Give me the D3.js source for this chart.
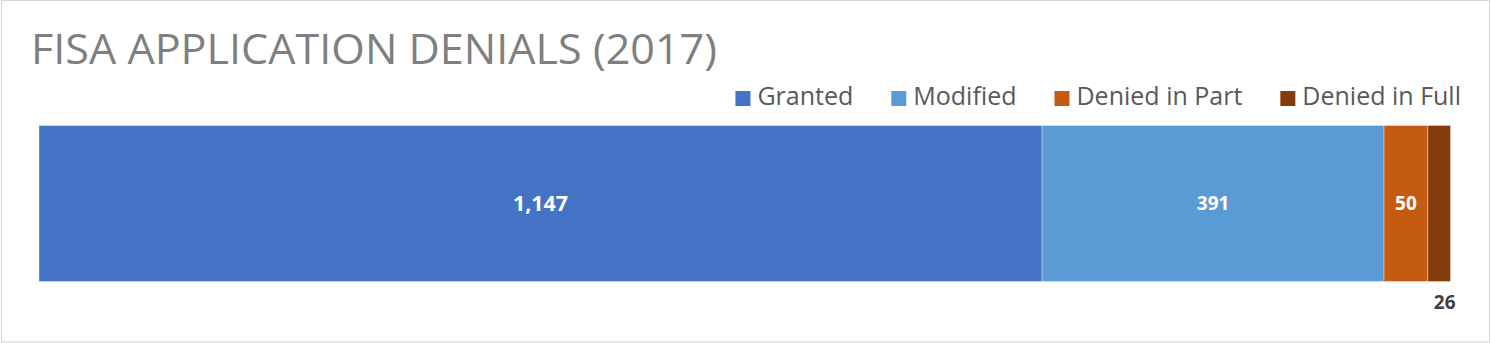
<!DOCTYPE html>
<html>
<head>
<meta charset="utf-8">
<script src="https://d3js.org/d3.v7.min.js"></script>
<style>
  body { margin: 0; background: #fff; }
  svg { display: block; font-family: "Open Sans", sans-serif; }
</style>
</head>
<body>
<svg id="chart" width="1491" height="343"></svg>
<script>
// data
var categories = ["2017"];
var seriesNames = ["Granted", "Modified", "Denied in Part", "Denied in Full"];
var seriesValues = [1147, 391, 50, 26];
var seriesColors = ["#4472C4", "#5B9BD5", "#C55A11", "#843C0C"];
var titleText = "FISA APPLICATION DENIALS (2017)";

var W = 1491, H = 343;
var svg = d3.select("#chart");

// outer chart border
svg.append("rect")
  .attr("x", 1.5).attr("y", 0.5)
  .attr("width", W - 3).attr("height", H - 1.5)
  .attr("fill", "#fff")
  .attr("stroke", "#d9d9d9")
  .attr("stroke-width", 1.2);

// title (Calibri Light look-alike, stretched to the reference width)
svg.append("text")
  .attr("x", 31).attr("y", 63.5)
  .attr("fill", "#7f7f7f")
  .attr("font-size", 42)
  .attr("font-weight", 400)
  .attr("textLength", 686)
  .attr("lengthAdjust", "spacingAndGlyphs")
  .text(titleText);

// build a one-row table for d3.stack
var row = { category: categories[0] };
seriesNames.forEach(function(n, i) { row[n] = seriesValues[i]; });
var stacked = d3.stack().keys(seriesNames)([row]);

var total = d3.sum(seriesValues);
var x = d3.scaleLinear().domain([0, total]).range([39, 1450.5]);
var y = d3.scaleBand().domain(categories).range([125.5, 281.5]).padding(0);
var color = d3.scaleOrdinal().domain(seriesNames).range(seriesColors);

var seg = svg.append("g").selectAll("g")
  .data(stacked)
  .join("g");

seg.append("rect")
  .attr("x", function(d) { return x(d[0][0]); })
  .attr("y", function(d) { return y(d[0].data.category); })
  .attr("width", function(d) { return x(d[0][1]) - x(d[0][0]); })
  .attr("height", y.bandwidth())
  .attr("fill", function(d) { return color(d.key); })
  .attr("stroke", "#fff")
  .attr("stroke-opacity", 0.35)
  .attr("stroke-width", 1);

// data labels
var fmt = d3.format(",");
var labelSize = { "Granted": 21.4, "Modified": 19, "Denied in Part": 19, "Denied in Full": 19 };
seg.append("text")
  .attr("x", function(d) {
    if (d.key === "Denied in Full") return x(d[0][1]) + 5;
    return (x(d[0][0]) + x(d[0][1])) / 2;
  })
  .attr("y", function(d) {
    if (d.key === "Denied in Full") return y(d[0].data.category) + y.bandwidth() + 27.8;
    return y(d[0].data.category) + y.bandwidth() / 2;
  })
  .attr("dy", function(d) { return d.key === "Denied in Full" ? 0 : "0.35em"; })
  .attr("text-anchor", function(d) { return d.key === "Denied in Full" ? "end" : "middle"; })
  .attr("font-weight", 700)
  .attr("font-size", function(d) { return labelSize[d.key]; })
  .attr("fill", function(d) { return d.key === "Denied in Full" ? "#404040" : "#fff"; })
  .text(function(d) { return fmt(d[0][1] - d[0][0]); });

// legend, right aligned
var legend = svg.append("g");
var items = legend.selectAll("g").data(seriesNames).join("g");
items.append("rect")
  .attr("width", 15).attr("height", 15)
  .attr("y", 91)
  .attr("fill", function(d) { return color(d); });
items.append("text")
  .attr("x", 22).attr("y", 105)
  .attr("font-size", 25)
  .attr("fill", "#595959")
  .text(function(d) { return d; });

var right = 1461, gap = 38;
var widths = [];
items.each(function() {
  widths.push(d3.select(this).select("text").node().getComputedTextLength());
});
var pos = [];
var cur = right;
for (var i = seriesNames.length - 1; i >= 0; i--) {
  cur = cur - widths[i] - 22;
  pos[i] = cur;
  cur = cur - gap;
}
items.attr("transform", function(d, i) { return "translate(" + pos[i] + ",0)"; });
</script>
</body>
</html>
